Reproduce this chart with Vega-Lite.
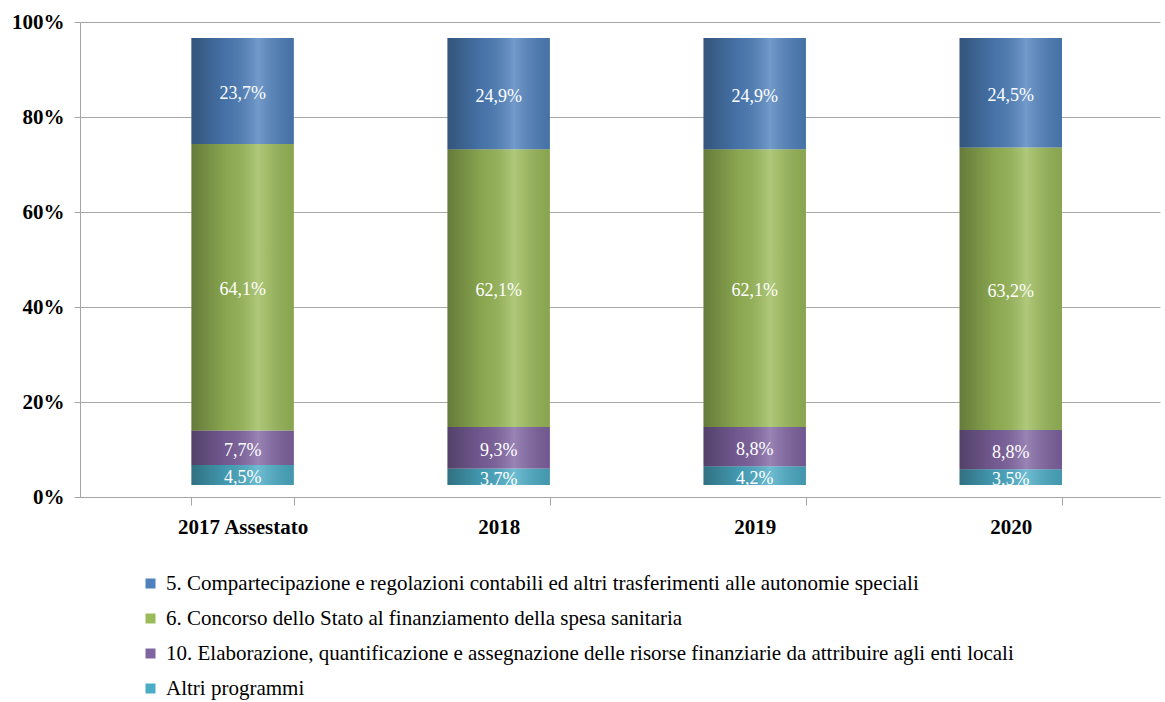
{
  "$schema": "https://vega.github.io/schema/vega-lite/v6.json",
  "autosize": "none",
  "width": 1080,
  "height": 475,
  "padding": {"left": 80, "top": 22, "right": 5, "bottom": 205},
  "background": "white",
  "config": {"view": {"stroke": null}, "font": "Liberation Serif"},
  "datasets": {
    "ticks": [{"v": 0}, {"v": 20}, {"v": 40}, {"v": 60}, {"v": 80}, {"v": 100}],
    "shares": [
      {"year": "2017 Assestato", "prog": "Altri programmi", "val": 4.5, "label": "4,5%", "ord": 1},
      {"year": "2017 Assestato", "prog": "10. Elaborazione, quantificazione e assegnazione delle risorse finanziarie da attribuire agli enti locali", "val": 7.7, "label": "7,7%", "ord": 2},
      {"year": "2017 Assestato", "prog": "\u00a06. Concorso dello Stato al finanziamento della spesa sanitaria", "val": 64.1, "label": "64,1%", "ord": 3},
      {"year": "2017 Assestato", "prog": "\u00a05. Compartecipazione e regolazioni contabili ed altri trasferimenti alle autonomie speciali", "val": 23.7, "label": "23,7%", "ord": 4},
      {"year": "2018", "prog": "Altri programmi", "val": 3.7, "label": "3,7%", "ord": 1},
      {"year": "2018", "prog": "10. Elaborazione, quantificazione e assegnazione delle risorse finanziarie da attribuire agli enti locali", "val": 9.3, "label": "9,3%", "ord": 2},
      {"year": "2018", "prog": "\u00a06. Concorso dello Stato al finanziamento della spesa sanitaria", "val": 62.1, "label": "62,1%", "ord": 3},
      {"year": "2018", "prog": "\u00a05. Compartecipazione e regolazioni contabili ed altri trasferimenti alle autonomie speciali", "val": 24.9, "label": "24,9%", "ord": 4},
      {"year": "2019", "prog": "Altri programmi", "val": 4.2, "label": "4,2%", "ord": 1},
      {"year": "2019", "prog": "10. Elaborazione, quantificazione e assegnazione delle risorse finanziarie da attribuire agli enti locali", "val": 8.8, "label": "8,8%", "ord": 2},
      {"year": "2019", "prog": "\u00a06. Concorso dello Stato al finanziamento della spesa sanitaria", "val": 62.1, "label": "62,1%", "ord": 3},
      {"year": "2019", "prog": "\u00a05. Compartecipazione e regolazioni contabili ed altri trasferimenti alle autonomie speciali", "val": 24.9, "label": "24,9%", "ord": 4},
      {"year": "2020", "prog": "Altri programmi", "val": 3.5, "label": "3,5%", "ord": 1},
      {"year": "2020", "prog": "10. Elaborazione, quantificazione e assegnazione delle risorse finanziarie da attribuire agli enti locali", "val": 8.8, "label": "8,8%", "ord": 2},
      {"year": "2020", "prog": "\u00a06. Concorso dello Stato al finanziamento della spesa sanitaria", "val": 63.2, "label": "63,2%", "ord": 3},
      {"year": "2020", "prog": "\u00a05. Compartecipazione e regolazioni contabili ed altri trasferimenti alle autonomie speciali", "val": 24.5, "label": "24,5%", "ord": 4}
    ]
  },
  "layer": [
    {
      "data": {"name": "ticks"},
      "mark": {"type": "rule", "opacity": 0},
      "encoding": {
        "y": {
          "field": "v", "type": "quantitative",
          "scale": {"domain": [0, 100], "nice": false},
          "axis": {
            "orient": "left", "title": null, "values": [0, 20, 40, 60, 80, 100],
            "labelExpr": "datum.value + '%'",
            "grid": true, "gridColor": "#A6A6A6", "gridWidth": 1,
            "domainColor": "#A6A6A6", "tickColor": "#A6A6A6", "tickSize": 6,
            "labelFont": "Liberation Serif", "labelFontSize": 21, "labelFontWeight": "bold",
            "labelColor": "#000000", "labelPadding": 10
          }
        }
      }
    },
    {
      "data": {"name": "shares"},
      "transform": [
        {"stack": "val", "groupby": ["year"], "sort": [{"field": "ord", "order": "ascending"}], "as": ["y0", "y1"]},
        {"calculate": "(datum.y0 + datum.y1) / 2", "as": "ym"}
      ],
      "encoding": {
        "x": {
          "field": "year", "type": "nominal", "sort": ["2017 Assestato", "2018", "2019", "2020"],
          "scale": {"paddingInner": 0.6, "paddingOuter": 0.409, "align": 0.532},
          "axis": {
            "title": null, "labelAngle": 0, "ticks": true, "tickBand": "extent",
            "tickColor": "#A6A6A6", "tickSize": 8, "domainColor": "#A6A6A6",
            "labelFont": "Liberation Serif", "labelFontSize": 21, "labelFontWeight": "bold",
            "labelColor": "#000000", "labelPadding": 11
          }
        }
      },
      "layer": [
        {
          "mark": {"type": "bar"},
          "encoding": {
            "y": {"field": "y0", "type": "quantitative", "scale": {"domain": [-2.68, 103.58], "nice": false, "zero": false}, "axis": null},
            "y2": {"field": "y1"},
            "color": {
              "field": "prog", "type": "nominal",
              "scale": {
                "domain": [
                  "\u00a05. Compartecipazione e regolazioni contabili ed altri trasferimenti alle autonomie speciali",
                  "\u00a06. Concorso dello Stato al finanziamento della spesa sanitaria",
                  "10. Elaborazione, quantificazione e assegnazione delle risorse finanziarie da attribuire agli enti locali",
                  "Altri programmi"
                ],
                "range": ["#4F81BD", "#9BBB59", "#8064A2", "#4BACC6"]
              },
              "legend": {
                "orient": "none", "legendX": 60, "legendY": 551, "title": null,
                "direction": "vertical", "symbolType": "square", "symbolSize": 100,
                "symbolStrokeWidth": 0, "labelFont": "Liberation Serif", "labelFontSize": 21,
                "labelColor": "#000000", "rowPadding": 13, "labelOffset": 5, "labelLimit": 1000
              }
            },
            "order": {"field": "ord", "type": "quantitative"}
          }
        },
        {
          "mark": {
            "type": "bar",
            "fill": {
              "gradient": "linear", "x1": 0, "x2": 1, "y1": 0, "y2": 0,
              "stops": [
                {"offset": 0, "color": "rgba(0,0,0,0.35)"},
                {"offset": 0.35, "color": "rgba(0,0,0,0.1)"},
                {"offset": 0.65, "color": "rgba(255,255,255,0.2)"},
                {"offset": 1, "color": "rgba(0,0,0,0.12)"}
              ]
            }
          },
          "encoding": {
            "y": {"field": "y0", "type": "quantitative"},
            "y2": {"field": "y1"}
          }
        },
        {
          "mark": {"type": "text", "color": "#FFFFFF", "font": "Liberation Serif", "fontSize": 18, "dy": 3},
          "encoding": {
            "y": {"field": "ym", "type": "quantitative"},
            "text": {"field": "label"}
          }
        }
      ]
    }
  ],
  "resolve": {"scale": {"y": "independent"}, "axis": {"y": "independent"}}
}
